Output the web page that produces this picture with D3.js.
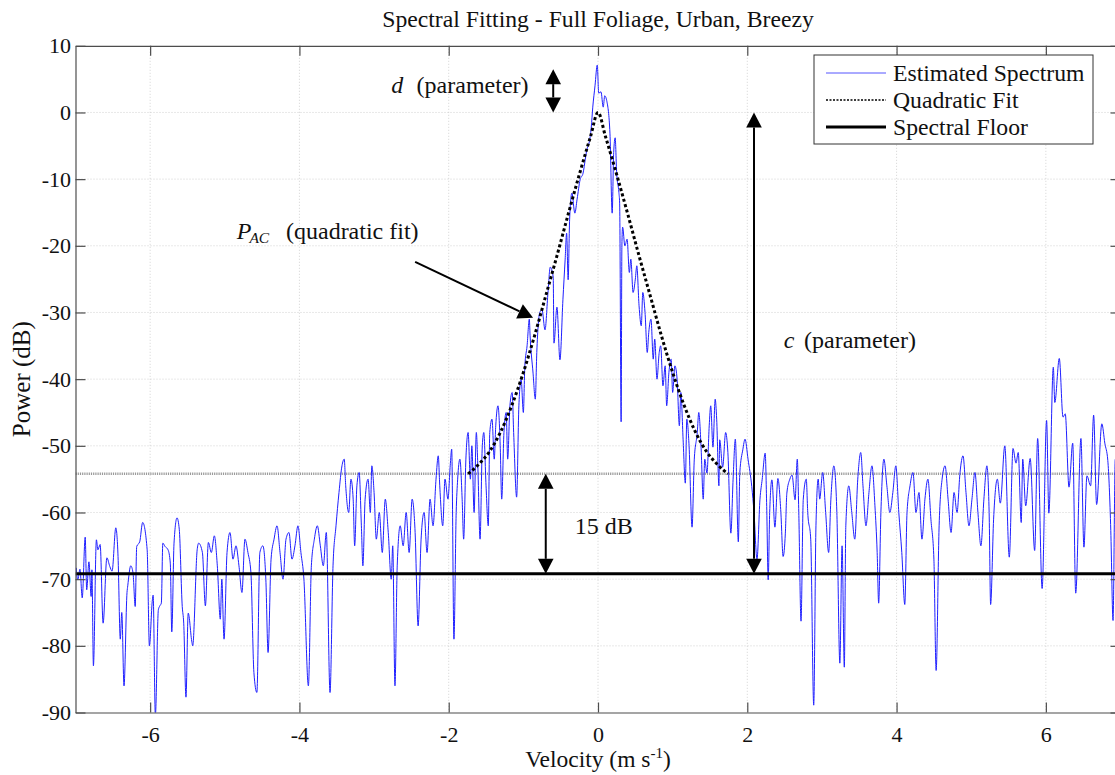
<!DOCTYPE html>
<html>
<head>
<meta charset="utf-8">
<script src="https://cdn.jsdelivr.net/npm/d3@7"></script>
<style>
  body { margin: 0; background: #fff; }
  svg { display: block; }
  svg text { font-family: "Liberation Serif", "DejaVu Serif", serif; fill: #111; }
</style>
</head>
<body>
<svg id="chart" width="1115" height="775" font-family="Liberation Serif, DejaVu Serif, serif"></svg>
<script>
// Estimated Doppler spectrum (velocity in m/s, power in dB)
const velocity = [
  -6.99,-6.97,-6.94,-6.91,-6.87,-6.85,-6.82,-6.79,-6.78,-6.76,-6.72,-6.70,-6.67,-6.63,-6.58,-6.54,-6.51,-6.46,-6.43,-6.40,
  -6.38,-6.35,-6.31,-6.30,-6.26,-6.23,-6.20,-6.18,-6.14,-6.10,-6.04,-6.01,-5.97,-5.96,-5.93,-5.89,-5.87,-5.85,-5.83,-5.80,
  -5.76,-5.73,-5.71,-5.68,-5.64,-5.61,-5.57,-5.55,-5.52,-5.49,-5.44,-5.43,-5.37,-5.35,-5.30,-5.26,-5.22,-5.18,-5.14,-5.10,
  -5.06,-5.04,-5.01,-4.97,-4.93,-4.89,-4.85,-4.81,-4.77,-4.73,-4.69,-4.65,-4.61,-4.57,-4.53,-4.49,-4.45,-4.42,-4.38,-4.34,
  -4.30,-4.26,-4.22,-4.18,-4.14,-4.10,-4.06,-4.02,-3.98,-3.94,-3.88,-3.84,-3.80,-3.76,-3.72,-3.68,-3.64,-3.59,-3.55,-3.51,
  -3.47,-3.43,-3.40,-3.38,-3.34,-3.31,-3.28,-3.26,-3.23,-3.20,-3.17,-3.15,-3.12,-3.08,-3.05,-3.03,-3.00,-2.97,-2.93,-2.89,
  -2.85,-2.81,-2.77,-2.75,-2.72,-2.69,-2.65,-2.61,-2.57,-2.53,-2.49,-2.45,-2.41,-2.37,-2.33,-2.29,-2.25,-2.21,-2.17,-2.14,
  -2.12,-2.08,-2.05,-2.01,-1.98,-1.96,-1.93,-1.90,-1.88,-1.85,-1.82,-1.80,-1.77,-1.74,-1.71,-1.69,-1.66,-1.63,-1.61,-1.58,
  -1.55,-1.53,-1.50,-1.47,-1.45,-1.42,-1.39,-1.37,-1.34,-1.31,-1.29,-1.26,-1.23,-1.21,-1.18,-1.15,-1.13,-1.09,-1.06,-1.03,
  -1.00,-0.98,-0.95,-0.92,-0.91,-0.87,-0.84,-0.82,-0.78,-0.75,-0.71,-0.67,-0.64,-0.60,-0.59,-0.55,-0.51,-0.47,-0.44,-0.42,
  -0.40,-0.38,-0.35,-0.31,-0.28,-0.24,-0.20,-0.17,-0.15,-0.12,-0.09,-0.07,-0.04,-0.01,0.01,0.04,0.07,0.09,0.12,0.16,
  0.19,0.21,0.23,0.25,0.28,0.29,0.31,0.32,0.33,0.36,0.39,0.42,0.44,0.47,0.50,0.52,0.55,0.58,0.60,0.63,
  0.66,0.68,0.71,0.74,0.76,0.79,0.82,0.84,0.87,0.90,0.92,0.95,0.98,1.00,1.03,1.06,1.09,1.11,1.14,1.17,
  1.19,1.22,1.26,1.29,1.33,1.35,1.38,1.41,1.43,1.46,1.49,1.51,1.54,1.57,1.59,1.62,1.63,1.67,1.71,1.74,
  1.78,1.81,1.84,1.88,1.90,1.94,1.97,2.01,2.06,2.09,2.13,2.17,2.20,2.24,2.26,2.28,2.30,2.33,2.37,2.41,
  2.45,2.48,2.51,2.53,2.57,2.60,2.64,2.67,2.69,2.72,2.75,2.79,2.81,2.85,2.89,2.92,2.95,2.97,3.01,3.05,
  3.09,3.12,3.16,3.20,3.24,3.27,3.30,3.32,3.36,3.40,3.44,3.48,3.52,3.55,3.59,3.63,3.67,3.71,3.74,3.76,
  3.79,3.83,3.87,3.91,3.95,3.99,4.03,4.07,4.11,4.14,4.18,4.22,4.26,4.30,4.34,4.38,4.42,4.46,4.50,4.53,
  4.57,4.61,4.65,4.69,4.73,4.77,4.81,4.85,4.89,4.93,4.97,5.01,5.05,5.09,5.13,5.17,5.21,5.24,5.26,5.30,
  5.35,5.39,5.45,5.51,5.56,5.60,5.63,5.67,5.69,5.73,5.79,5.85,5.89,5.95,6.01,6.04,6.10,6.12,6.18,6.23,
  6.26,6.31,6.36,6.40,6.47,6.51,6.55,6.60,6.64,6.68,6.75,6.79,6.83,6.87,6.90,6.93,6.99
];
const power = [
  -68.3,-70.1,-68.5,-72.8,-63.7,-71.6,-67.4,-72.6,-68.6,-83.0,-64.1,-65.6,-64.8,-76.6,-66.8,-68.1,-68.8,-62.3,-66.6,-79.0,
  -75.0,-86.0,-72.0,-71.0,-68.0,-69.0,-74.1,-65.1,-64.4,-61.5,-65.6,-80.0,-73.1,-72.4,-90.5,-74.6,-74.0,-73.6,-64.6,-65.1,
  -65.6,-67.6,-77.9,-64.6,-60.8,-62.5,-74.1,-76.6,-87.7,-75.1,-79.5,-80.0,-65.6,-64.6,-66,-74,-64.5,-66,-63.5,-68,
  -76,-70,-79,-66,-63,-67,-65,-68,-72,-64,-66,-69,-84,-87,-66,-65,-70,-81,-67,-64,
  -62,-66,-70,-64,-63,-67,-65,-62,-66,-70,-86,-68,-64,-62,-65,-68,-63,-87,-68,-62,
  -57,-53,-52,-56,-60,-55,-58,-65,-56,-54,-62,-68,-58,-55,-60,-53,-57,-64,-60,-66,
  -58,-63,-70,-65,-86,-68,-62,-65,-60,-66,-58,-63,-77,-64,-60,-66,-58,-62,-55,-51.5,
  -56,-62,-55,-58,-53,-50.5,-79,-60,-55,-52,-58,-64,-52,-48,-55,-50,-60,-48,-53,-64,
  -50,-48,-56,-62,-48,-46,-52,-47,-44,-50,-58,-48,-45,-52,-44,-42,-48,-57.7,-44,-40,
  -45,-38,-35,-31,-33.4,-39.1,-43,-36,-30,-29.6,-32.6,-27,-23.2,-24.7,-34.6,-29.2,-37.1,-28.1,-22,-18.1,
  -25.1,-16,-12.1,-15.1,-13,-10.1,-9.1,-7,-5.6,-4.6,-2.2,0.8,4,7.1,2.9,3.1,0.8,2.5,1.6,-3.1,
  -15.1,-6,-3.8,-9.1,-12,-13.6,-46.4,-20,-17.2,-20,-19,-24,-22,-27,-25,-23,-29,-32,-27,-30,
  -36,-33,-31,-37,-34,-40,-36,-35,-41,-38,-44,-39,-37,-42,-38,-40,-47,-42,-49,-55.6,
  -46,-50,-62.2,-52,-48,-45,-50,-58,-52,-54.1,-47,-44,-50.2,-43,-46,-56,-49.1,-53.2,-48,-51,
  -63.1,-55,-49,-64.4,-54,-50.6,-49,-52,-56.1,-60,-67,-58,-55,-51.1,-59.1,-70.1,-60,-55.1,-62.2,-54.9,
  -60,-66.6,-63.1,-57.1,-55,-54.4,-58.1,-52,-60,-76.3,-58,-55,-60,-64,-88.9,-62,-55,-58,-54,-60,
  -66,-58,-53,-60,-82.6,-65,-83.2,-62,-56,-60,-64,-55,-51,-56,-62,-57,-53,-59,-66,-73.6,
  -60,-52,-56,-60,-57,-53,-60,-66,-73.8,-60,-56,-54,-60,-57,-64,-58,-55,-61,-67,-83.7,
  -62,-55,-53,-58,-63,-57,-60,-54,-51.5,-57,-62,-58,-54,-60,-65,-58,-53,-60,-73.8,-61,
  -55,-58.6,-50,-66.7,-50.4,-52.6,-51,-61.5,-52,-59,-51.9,-65.7,-48.9,-71.4,-46.2,-60.1,-38.2,-43.5,-36.9,-45.7,
  -45.2,-56.2,-49.6,-72.1,-48.9,-65.2,-54.5,-56,-45.4,-58.8,-46.7,-49.6,-52.2,-62.7,-76.2,-52,-55
];

// Quadratic fit to the spectral peak (P_AC)
const fitVelocity = [-1.74,-1.60,-1.45,-1.30,-1.15,-1.00,-0.85,-0.70,-0.55,-0.40,-0.25,-0.10,0,
                     0.10,0.25,0.40,0.55,0.70,0.85,1.00,1.15,1.30,1.45,1.60,1.74];
const fitPower = [-54.2,-52.8,-50.8,-47.8,-43.8,-39.0,-33.5,-27.5,-21.5,-15.3,-9.3,-3.6,0,
                  -3.6,-9.3,-15.3,-21.5,-27.5,-33.5,-39.0,-43.8,-47.8,-50.8,-52.8,-54.2];

const floorLevel = -69.2;          // spectral floor (dB)
const thresholdLevel = -54.2;      // floor + 15 dB
const dTop = 6.5;                  // extent of the d parameter above the fit peak

const xTicks = [-6, -4, -2, 0, 2, 4, 6];
const yTicks = [10, 0, -10, -20, -30, -40, -50, -60, -70, -80, -90];
const legendLabels = ["Estimated Spectrum", "Quadratic Fit", "Spectral Floor"];

const FONT = "Liberation Serif, DejaVu Serif, serif";
const svg = d3.select("#chart");
const plotLeft = 75.5, plotRight = 1120.5, plotTop = 45.8, plotBottom = 712.5;

const x = d3.scaleLinear().domain([-7, 7]).range([plotLeft, plotRight]);
const y = d3.scaleLinear().domain([-90, 10]).range([plotBottom, plotTop]);

svg.append("defs").append("clipPath").attr("id", "plotClip")
  .append("rect").attr("x", plotLeft).attr("y", plotTop)
  .attr("width", plotRight - plotLeft).attr("height", plotBottom - plotTop);

// grid
const grid = svg.append("g").attr("stroke", "#c8c8c8").attr("stroke-width", 0.8)
  .attr("stroke-dasharray", "1,2");
grid.selectAll(".vg").data(xTicks).join("line")
  .attr("x1", d => x(d)).attr("x2", d => x(d)).attr("y1", plotTop).attr("y2", plotBottom);
grid.selectAll(".hg").data(yTicks.slice(1, -1)).join("line")
  .attr("x1", plotLeft).attr("x2", plotRight).attr("y1", d => y(d)).attr("y2", d => y(d));

const plot = svg.append("g").attr("clip-path", "url(#plotClip)");

// threshold (floor + 15 dB)
plot.append("line")
  .attr("x1", plotLeft).attr("x2", plotRight)
  .attr("y1", y(thresholdLevel)).attr("y2", y(thresholdLevel))
  .attr("stroke", "#9a9a9a").attr("stroke-width", 2.5).attr("stroke-dasharray", "1.2,1");

// spectrum
const spectrum = velocity.map((v, i) => [v, power[i]]);
plot.append("path").datum(spectrum)
  .attr("fill", "none").attr("stroke", "#1f1fff").attr("stroke-width", 1)
  .attr("stroke-linejoin", "round")
  .attr("d", d3.line().curve(d3.curveMonotoneX).x(d => x(d[0])).y(d => y(d[1])));

// quadratic fit
const fit = fitVelocity.map((v, i) => [v, fitPower[i]]);
plot.append("path").datum(fit)
  .attr("fill", "none").attr("stroke", "#000").attr("stroke-width", 3)
  .attr("stroke-dasharray", "3,2.5")
  .attr("d", d3.line().curve(d3.curveMonotoneX).x(d => x(d[0])).y(d => y(d[1])));

// spectral floor
plot.append("line")
  .attr("x1", plotLeft).attr("x2", plotRight)
  .attr("y1", y(floorLevel)).attr("y2", y(floorLevel))
  .attr("stroke", "#000").attr("stroke-width", 3);

// arrows
function arrow(g, x1, y1, x2, y2, startHead, endHead) {
  const len = 15, half = 7.8;
  const dx = x2 - x1, dy = y2 - y1, L = Math.hypot(dx, dy);
  const ux = dx / L, uy = dy / L, px = -uy, py = ux;
  let sx = x1, sy = y1, ex = x2, ey = y2;
  if (startHead) { sx += ux * len; sy += uy * len; }
  if (endHead) { ex -= ux * len; ey -= uy * len; }
  g.append("line").attr("x1", sx).attr("y1", sy).attr("x2", ex).attr("y2", ey)
    .attr("stroke", "#000").attr("stroke-width", 2);
  const head = (tx, ty, bx, by) => g.append("path")
    .attr("d", `M${tx},${ty}L${bx + px * half},${by + py * half}L${bx - px * half},${by - py * half}Z`)
    .attr("fill", "#000");
  if (startHead) head(x1, y1, x1 + ux * len, y1 + uy * len);
  if (endHead) head(x2, y2, x2 - ux * len, y2 - uy * len);
}
const ann = svg.append("g");
arrow(ann, x(-0.60), y(dTop), x(-0.60), y(0), true, true);
arrow(ann, x(2.09), y(0), x(2.09), y(floorLevel), true, true);
arrow(ann, x(-0.70), y(thresholdLevel), x(-0.70), y(floorLevel), true, true);
arrow(ann, x(-2.45), y(-22.4), x(-0.87), y(-30.8), false, true);

// annotation text
const fs = 24;
function label(g, vx, py, str, size, italic) {
  return g.append("text").attr("x", x(vx)).attr("y", y(py))
    .attr("font-family", FONT).attr("font-size", size)
    .attr("font-style", italic ? "italic" : "normal").text(str);
}
label(ann, -2.77, 2.9, "d", fs, true);
label(ann, -2.43, 2.9, "(parameter)", fs, false);
label(ann, 2.49, -35.3, "c", fs, true);
label(ann, 2.76, -35.3, "(parameter)", fs, false);
label(ann, -0.31, -63.3, "15 dB", fs, false);
label(ann, -4.84, -19.0, "P", fs, true);
label(ann, -4.67, -19.6, "AC", 15.5, true);
label(ann, -4.18, -19.0, "(quadratic fit)", fs, false);

// axes
const axisColor = "#4d4d4d";
const fmt = d => String(d);
function styleAxis(g) {
  g.attr("font-family", FONT);
  g.selectAll(".domain").attr("stroke", axisColor).attr("stroke-width", 1.2);
  g.selectAll(".tick line").attr("stroke", axisColor).attr("stroke-width", 1.2);
  g.selectAll("text").attr("font-family", FONT).attr("font-size", 22).attr("fill", "#111");
}
svg.append("g").attr("transform", `translate(0,${plotBottom})`)
  .call(d3.axisBottom(x).tickValues(xTicks).tickFormat(fmt).tickSizeInner(-10).tickSizeOuter(0).tickPadding(14))
  .call(styleAxis);
svg.append("g").attr("transform", `translate(0,${plotTop})`)
  .call(d3.axisTop(x).tickValues(xTicks).tickFormat("").tickSizeInner(-10).tickSizeOuter(0))
  .call(styleAxis);
svg.append("g").attr("transform", `translate(${plotLeft},0)`)
  .call(d3.axisLeft(y).tickValues(yTicks).tickFormat(fmt).tickSizeInner(-10).tickSizeOuter(0).tickPadding(4.5))
  .call(styleAxis);
svg.append("g").attr("transform", `translate(${plotRight},0)`)
  .call(d3.axisRight(y).tickValues(yTicks).tickFormat("").tickSizeInner(-10).tickSizeOuter(0))
  .call(styleAxis);

// titles
svg.append("text").attr("x", x(0)).attr("y", 27).attr("text-anchor", "middle")
  .attr("font-family", FONT).attr("font-size", 23.7).text("Spectral Fitting - Full Foliage, Urban, Breezy");
const xl = svg.append("text").attr("x", x(0)).attr("y", 767).attr("text-anchor", "middle")
  .attr("font-family", FONT).attr("font-size", 23.5);
xl.append("tspan").text("Velocity (m s");
xl.append("tspan").attr("dy", -9).attr("font-size", 15).text("-1");
xl.append("tspan").attr("dy", 9).text(")");
svg.append("text").attr("transform", `translate(30,${y(-40)}) rotate(-90)`)
  .attr("text-anchor", "middle").attr("font-family", FONT).attr("font-size", 25).text("Power (dB)");

// legend
const lg = svg.append("g").attr("transform", "translate(814,55)");
lg.append("rect").attr("width", 279).attr("height", 89).attr("fill", "#fff")
  .attr("stroke", "#333").attr("stroke-width", 1);
const legendStyles = [
  { stroke: "#5555ff", width: 1, dash: null },
  { stroke: "#000", width: 1.6, dash: "2,1.5" },
  { stroke: "#000", width: 3, dash: null }
];
legendLabels.forEach((name, i) => {
  const cy = 18 + i * 27;
  const s = legendStyles[i];
  lg.append("line").attr("x1", 12).attr("x2", 72).attr("y1", cy).attr("y2", cy)
    .attr("stroke", s.stroke).attr("stroke-width", s.width).attr("stroke-dasharray", s.dash);
  lg.append("text").attr("x", 79).attr("y", cy).attr("dy", "0.33em")
    .attr("font-family", FONT).attr("font-size", 23.7).text(name);
});
</script>
</body>
</html>
